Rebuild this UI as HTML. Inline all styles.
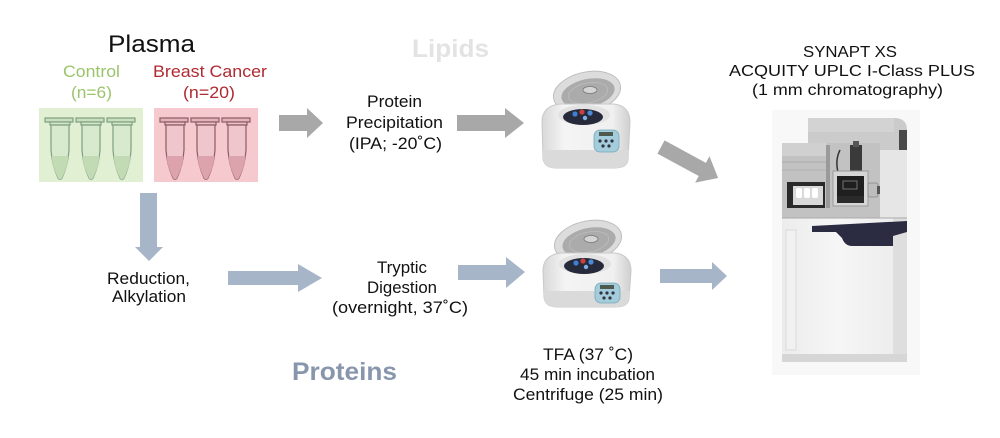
<!DOCTYPE html>
<html>
<head>
<meta charset="utf-8">
<style>
  html, body { margin:0; padding:0; background:#ffffff; }
  body { width:1000px; height:438px; overflow:hidden; }
  svg { display:block; }
  text { font-family: "Liberation Sans", Arial, sans-serif; }
</style>
</head>
<body>
<svg width="1000" height="438" viewBox="0 0 1000 438" xmlns="http://www.w3.org/2000/svg">
  <defs>
    <linearGradient id="bodyG" x1="0" y1="0" x2="0" y2="1">
      <stop offset="0" stop-color="#f6f6f6"/>
      <stop offset="0.6" stop-color="#ebebeb"/>
      <stop offset="1" stop-color="#cfcfcf"/>
    </linearGradient>
    <linearGradient id="bodyH" x1="0" y1="0" x2="1" y2="0">
      <stop offset="0" stop-color="#d8d8d8"/>
      <stop offset="0.25" stop-color="#f4f4f4"/>
      <stop offset="0.8" stop-color="#f0f0f0"/>
      <stop offset="1" stop-color="#cfcfcf"/>
    </linearGradient>
    <linearGradient id="cab" x1="0" y1="0" x2="1" y2="0">
      <stop offset="0" stop-color="#ececec"/>
      <stop offset="0.5" stop-color="#f6f6f6"/>
      <stop offset="1" stop-color="#ededed"/>
    </linearGradient>
  </defs>

  <!-- Titles -->
  <text x="151.5" y="52" font-size="24" fill="#111" text-anchor="middle" textLength="87" lengthAdjust="spacingAndGlyphs">Plasma</text>
  <text x="91.5" y="77" font-size="17" fill="#9cc46e" text-anchor="middle" textLength="57" lengthAdjust="spacingAndGlyphs">Control</text>
  <text x="91.5" y="98" font-size="17" fill="#9cc46e" text-anchor="middle" textLength="41" lengthAdjust="spacingAndGlyphs">(n=6)</text>
  <text x="210" y="77" font-size="17" fill="#b02a32" text-anchor="middle" textLength="114" lengthAdjust="spacingAndGlyphs">Breast Cancer</text>
  <text x="209" y="98" font-size="17" fill="#b02a32" text-anchor="middle" textLength="52" lengthAdjust="spacingAndGlyphs">(n=20)</text>

  <!-- Sample boxes -->
  <rect x="39" y="108" width="104" height="74" fill="#e1efd3"/>
  <rect x="154" y="108" width="104" height="74" fill="#f5c9cd"/>

  <!-- Green tubes -->
  <g stroke="#7f9f80" stroke-width="1.2">
    <g transform="translate(47,0)">
      <rect x="-2" y="118" width="28" height="4" fill="#c9dfbe"/>
      <rect x="3" y="122" width="20" height="3" fill="#d6e8cb"/>
      <path d="M4,125 L22,125 L22,150 Q21,165 15,178 Q13,181 11,178 Q5,165 4,150 Z" fill="#d8eacd"/>
      <path d="M4.6,156 L21.4,156 Q21,166 15,178 Q13,181 11,178 Q5,166 4.6,156 Z" fill="#c3dbb5" stroke="none"/>
    </g>
    <g transform="translate(78,0)">
      <rect x="-2" y="118" width="28" height="4" fill="#c9dfbe"/>
      <rect x="3" y="122" width="20" height="3" fill="#d6e8cb"/>
      <path d="M4,125 L22,125 L22,150 Q21,165 15,178 Q13,181 11,178 Q5,165 4,150 Z" fill="#d8eacd"/>
      <path d="M4.6,156 L21.4,156 Q21,166 15,178 Q13,181 11,178 Q5,166 4.6,156 Z" fill="#c3dbb5" stroke="none"/>
    </g>
    <g transform="translate(109,0)">
      <rect x="-2" y="118" width="28" height="4" fill="#c9dfbe"/>
      <rect x="3" y="122" width="20" height="3" fill="#d6e8cb"/>
      <path d="M4,125 L22,125 L22,150 Q21,165 15,178 Q13,181 11,178 Q5,165 4,150 Z" fill="#d8eacd"/>
      <path d="M4.6,156 L21.4,156 Q21,166 15,178 Q13,181 11,178 Q5,166 4.6,156 Z" fill="#c3dbb5" stroke="none"/>
    </g>
  </g>
  <!-- Red tubes -->
  <g stroke="#8e5a63" stroke-width="1.2">
    <g transform="translate(162,0)">
      <rect x="-2" y="118" width="28" height="4" fill="#e3b3ba"/>
      <rect x="3" y="122" width="20" height="3" fill="#ecc0c6"/>
      <path d="M4,125 L22,125 L22,150 Q21,165 15,178 Q13,181 11,178 Q5,165 4,150 Z" fill="#efc6cb"/>
      <path d="M4.6,156 L21.4,156 Q21,166 15,178 Q13,181 11,178 Q5,166 4.6,156 Z" fill="#dda3ac" stroke="none"/>
    </g>
    <g transform="translate(193,0)">
      <rect x="-2" y="118" width="28" height="4" fill="#e3b3ba"/>
      <rect x="3" y="122" width="20" height="3" fill="#ecc0c6"/>
      <path d="M4,125 L22,125 L22,150 Q21,165 15,178 Q13,181 11,178 Q5,165 4,150 Z" fill="#efc6cb"/>
      <path d="M4.6,156 L21.4,156 Q21,166 15,178 Q13,181 11,178 Q5,166 4.6,156 Z" fill="#dda3ac" stroke="none"/>
    </g>
    <g transform="translate(224,0)">
      <rect x="-2" y="118" width="28" height="4" fill="#e3b3ba"/>
      <rect x="3" y="122" width="20" height="3" fill="#ecc0c6"/>
      <path d="M4,125 L22,125 L22,150 Q21,165 15,178 Q13,181 11,178 Q5,165 4,150 Z" fill="#efc6cb"/>
      <path d="M4.6,156 L21.4,156 Q21,166 15,178 Q13,181 11,178 Q5,166 4.6,156 Z" fill="#dda3ac" stroke="none"/>
    </g>
  </g>

  <!-- Lipids branch -->
  <text x="450.5" y="57" font-size="25" font-weight="bold" fill="#e3e3e3" text-anchor="middle" textLength="77" lengthAdjust="spacingAndGlyphs">Lipids</text>
  <polygon points="279,115 307,115 307,108 323,123 307,138 307,131 279,131" fill="#a8a8a8"/>
  <text x="394.5" y="107" font-size="17" fill="#111" text-anchor="middle" textLength="55" lengthAdjust="spacingAndGlyphs">Protein</text>
  <text x="394.5" y="128" font-size="17" fill="#111" text-anchor="middle" textLength="97" lengthAdjust="spacingAndGlyphs">Precipitation</text>
  <text x="395.5" y="149" font-size="17" fill="#111" text-anchor="middle" textLength="93" lengthAdjust="spacingAndGlyphs">(IPA; -20˚C)</text>
  <polygon points="457,115 505,115 505,108 524,123 505,138 505,131 457,131" fill="#a8a8a8"/>

  <!-- Centrifuge 1 -->
  <g>
    <ellipse cx="587" cy="92" rx="34" ry="20" transform="rotate(-12 587 92)" fill="#dcdcdc" stroke="#bdbdbd"/>
    <ellipse cx="588" cy="93" rx="27" ry="14" transform="rotate(-12 588 93)" fill="#ababab"/>
    <ellipse cx="588" cy="93" rx="20" ry="10" transform="rotate(-12 588 93)" fill="none" stroke="#bdbdbd" stroke-width="0.8"/>
    <ellipse cx="590" cy="90" rx="7" ry="3.5" fill="#d4d4d4" stroke="#777" stroke-width="0.8"/>
    <path d="M542,122 Q542,106 560,104 L614,104 Q630,106 630,122 L628,160 Q627,168 615,168 L556,168 Q544,168 543,158 Z" fill="url(#bodyH)" stroke="#c9c9c9"/>
    <path d="M543,150 L629,150 L628,160 Q627,168 615,168 L556,168 Q544,168 543,158 Z" fill="#dadada"/>
    <ellipse cx="584" cy="115" rx="26" ry="10" fill="#e2e2e2"/>
    <ellipse cx="583" cy="117" rx="20" ry="8" fill="#262a3a"/>
    <circle cx="575" cy="114" r="2.6" fill="#3f7fd0"/>
    <circle cx="582" cy="112" r="2.6" fill="#c84040"/>
    <circle cx="590" cy="113" r="2.6" fill="#4a8ad8"/>
    <circle cx="585" cy="118" r="2.2" fill="#7fb0e6"/>
    <rect x="594" y="130" width="25" height="22" rx="6" fill="#a3cddb" stroke="#76a7ba" stroke-width="0.8"/>
    <rect x="599" y="132" width="14" height="4" fill="#4f5a4f"/>
    <circle cx="600" cy="141" r="1.6" fill="#334"/>
    <circle cx="606" cy="141" r="1.6" fill="#334"/>
    <circle cx="612" cy="141" r="1.6" fill="#334"/>
    <circle cx="603" cy="146" r="1.6" fill="#334"/>
    <circle cx="609" cy="146" r="1.6" fill="#334"/>
  </g>

  <!-- Diagonal arrow to instrument -->
  <polygon points="0,-7.5 47,-7.5 47,-15 65,0 47,15 47,7.5 0,7.5" transform="translate(661,147) rotate(28.5)" fill="#a8a8a8"/>

  <!-- Instrument text -->
  <text x="850" y="57" font-size="16" fill="#111" text-anchor="middle" textLength="94" lengthAdjust="spacingAndGlyphs">SYNAPT XS</text>
  <text x="852" y="76" font-size="16" fill="#111" text-anchor="middle" textLength="246" lengthAdjust="spacingAndGlyphs">ACQUITY UPLC I-Class PLUS</text>
  <text x="847.5" y="95" font-size="16" fill="#111" text-anchor="middle" textLength="191" lengthAdjust="spacingAndGlyphs">(1 mm chromatography)</text>

  <!-- Instrument -->
  <g>
    <rect x="772" y="110" width="148" height="265" fill="#f8f8f8"/>
    <!-- back housing -->
    <path d="M808,143 L808,126 Q808,118 816,118 L894,118 Q907,118 907,130 L907,220 L808,220 Z" fill="#cbcbcb"/>
    <rect x="808" y="118" width="86" height="14" fill="#d3d3d3"/>
    <rect x="899" y="130" width="8" height="30" fill="#4a4a4a"/>
    <!-- front panel -->
    <rect x="782" y="143" width="98" height="75" fill="#c2c2c2"/>
    <rect x="880" y="150" width="27" height="68" fill="#e6e6e6"/>
    <rect x="782" y="143" width="45" height="13" fill="#d0d0d0"/>
    <line x1="782" y1="162" x2="826" y2="162" stroke="#a9a9a9" stroke-width="1"/>
    <line x1="782" y1="170" x2="826" y2="170" stroke="#b3b3b3" stroke-width="1"/>
    <rect x="826" y="145" width="4" height="63" fill="#9a9a9a"/>
    <!-- vial compartment -->
    <rect x="787" y="182" width="38" height="26" fill="#2a2a2a"/>
    <rect x="793" y="186" width="30" height="19" fill="#d9d9d9"/>
    <rect x="796" y="188" width="6" height="10" rx="2" fill="#fff"/>
    <rect x="804" y="188" width="6" height="10" rx="2" fill="#fff"/>
    <rect x="812" y="188" width="6" height="10" rx="2" fill="#fff"/>
    <!-- column and source -->
    <rect x="850" y="145" width="12" height="27" fill="#3a3a3a"/>
    <rect x="853" y="141" width="6" height="6" fill="#555"/>
    <path d="M840,150 Q835,160 838,172" stroke="#333" stroke-width="1.5" fill="none"/>
    <rect x="833" y="171" width="35" height="35" fill="#d6d6d6" stroke="#9a9a9a"/>
    <rect x="837" y="176" width="27" height="20" fill="#1f1f1f"/>
    <rect x="843" y="181" width="14" height="8" fill="none" stroke="#888" stroke-width="0.8"/>
    <rect x="837" y="196" width="27" height="7" fill="#2a2a2a"/>
    <rect x="868" y="183" width="10" height="14" rx="2" fill="#bdbdbd" stroke="#888" stroke-width="0.8"/>
    <rect x="877" y="186" width="3" height="8" fill="#555"/>
    <!-- lower cabinet -->
    <rect x="782" y="218" width="112" height="140" fill="url(#cab)"/>
    <rect x="893" y="218" width="14" height="140" fill="#dedede"/>
    <line x1="782" y1="218" x2="907" y2="218" stroke="#aaa" stroke-width="1"/>
    <path d="M812,226 L907,221 L907,232 L893,236 L893,246 L852,246 Q845,246 842,238 L836,232 L812,232 Z" fill="#2b2c42"/>
    <rect x="786" y="230" width="10" height="120" fill="#f1f1f1" stroke="#d5d5d5" stroke-width="0.8"/>
    <rect x="782" y="354" width="125" height="8" fill="#d6d6d6"/>
  </g>

  <!-- Proteins branch -->
  <polygon points="140,193 157,193 157,247 163,247 149,261 135,247 140,247" fill="#a7b5c9"/>
  <text x="148.5" y="284" font-size="17" fill="#111" text-anchor="middle" textLength="83" lengthAdjust="spacingAndGlyphs">Reduction,</text>
  <text x="149" y="302" font-size="17" fill="#111" text-anchor="middle" textLength="74" lengthAdjust="spacingAndGlyphs">Alkylation</text>
  <polygon points="228,271 298,271 298,264 322,278 298,292 298,285 228,285" fill="#a7b5c9"/>
  <text x="402" y="273" font-size="17" fill="#111" text-anchor="middle" textLength="50" lengthAdjust="spacingAndGlyphs">Tryptic</text>
  <text x="402" y="293" font-size="17" fill="#111" text-anchor="middle" textLength="70" lengthAdjust="spacingAndGlyphs">Digestion</text>
  <text x="400" y="313" font-size="17" fill="#111" text-anchor="middle" textLength="136" lengthAdjust="spacingAndGlyphs">(overnight, 37˚C)</text>
  <text x="344.5" y="380" font-size="25" font-weight="bold" fill="#8896ad" text-anchor="middle" textLength="105" lengthAdjust="spacingAndGlyphs">Proteins</text>
  <polygon points="458,265 506,265 506,257 525,272 506,288 506,280 458,280" fill="#a7b5c9"/>

  <!-- Centrifuge 2 -->
  <g transform="translate(1,149)">
    <ellipse cx="587" cy="92" rx="34" ry="20" transform="rotate(-12 587 92)" fill="#dcdcdc" stroke="#bdbdbd"/>
    <ellipse cx="588" cy="93" rx="27" ry="14" transform="rotate(-12 588 93)" fill="#ababab"/>
    <ellipse cx="588" cy="93" rx="20" ry="10" transform="rotate(-12 588 93)" fill="none" stroke="#bdbdbd" stroke-width="0.8"/>
    <ellipse cx="590" cy="90" rx="7" ry="3.5" fill="#d4d4d4" stroke="#777" stroke-width="0.8"/>
    <path d="M542,122 Q542,106 560,104 L614,104 Q630,106 630,122 L628,150 Q627,158 615,158 L556,158 Q544,158 543,148 Z" fill="url(#bodyH)" stroke="#c9c9c9"/>
    <path d="M543,142 L629,142 L628,150 Q627,158 615,158 L556,158 Q544,158 543,148 Z" fill="#dadada"/>
    <ellipse cx="584" cy="115" rx="26" ry="10" fill="#e2e2e2"/>
    <ellipse cx="583" cy="117" rx="20" ry="8" fill="#262a3a"/>
    <circle cx="575" cy="114" r="2.6" fill="#3f7fd0"/>
    <circle cx="582" cy="112" r="2.6" fill="#c84040"/>
    <circle cx="590" cy="113" r="2.6" fill="#4a8ad8"/>
    <circle cx="585" cy="118" r="2.2" fill="#7fb0e6"/>
    <rect x="594" y="134" width="25" height="20" rx="6" fill="#a3cddb" stroke="#76a7ba" stroke-width="0.8"/>
    <rect x="599" y="136" width="14" height="4" fill="#4f5a4f"/>
    <circle cx="600" cy="144" r="1.6" fill="#334"/>
    <circle cx="606" cy="144" r="1.6" fill="#334"/>
    <circle cx="612" cy="144" r="1.6" fill="#334"/>
    <circle cx="603" cy="149" r="1.6" fill="#334"/>
    <circle cx="609" cy="149" r="1.6" fill="#334"/>
  </g>

  <text x="588" y="360" font-size="17" fill="#111" text-anchor="middle" textLength="90" lengthAdjust="spacingAndGlyphs">TFA (37 ˚C)</text>
  <text x="587.5" y="380" font-size="17" fill="#111" text-anchor="middle" textLength="135" lengthAdjust="spacingAndGlyphs">45 min incubation</text>
  <text x="588" y="400" font-size="17" fill="#111" text-anchor="middle" textLength="150" lengthAdjust="spacingAndGlyphs">Centrifuge (25 min)</text>

  <polygon points="660,269 712,269 712,262 727,276 712,290 712,283 660,283" fill="#a7b5c9"/>
</svg>
</body>
</html>
